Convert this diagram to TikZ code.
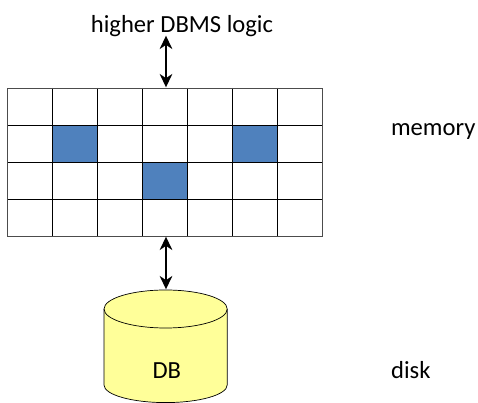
\documentclass[tikz,border=0pt]{standalone}
\usepackage{fontspec}
\setmainfont{Carlito}
\usepackage{xcolor}
\usetikzlibrary{arrows.meta}
\definecolor{cellblue}{HTML}{4F81BD}
\definecolor{dbyellow}{HTML}{FFFF99}
\tikzset{
    lbl/.style={font=\fontsize{17.5}{20}\selectfont, inner sep=0pt},
    link/.style={line width=1.3pt, {Stealth[length=9.5pt,width=9pt,inset=3pt]}-{Stealth[length=9.5pt,width=9pt,inset=3pt]}, shorten >=0.5pt, shorten <=0.5pt},
}
\begin{document}
\begin{tikzpicture}
    \useasboundingbox (0,0) rectangle (11.95,10.075);
    %%Memory cells
    \fill[cellblue] (1.315,6.95) rectangle (2.44,6.025);
    \fill[cellblue] (5.815,6.95) rectangle (6.94,6.025);
    \fill[cellblue] (3.565,6.025) rectangle (4.69,5.1);
    \foreach \c in {1,...,6} {
        \draw[line width=0.5pt] ({0.19+1.125*\c},7.875) to ({0.19+1.125*\c},4.175);
    }
    \foreach \r in {1,2,3} {
        \draw[line width=0.5pt] (0.19,{7.875-0.925*\r}) to (8.05,{7.875-0.925*\r});
    }
    \node[draw=black!70, line width=0.5pt, minimum width=7.86cm, minimum height=3.7cm, inner sep=0pt, outer sep=0pt] (grid) at (4.12,6.025) {};
    %%Disk
    \draw[fill=dbyellow, line width=0.5pt] (2.6,2.35) to (2.6,0.45) arc (180:360:1.54 and 0.44) to (5.68,2.35) arc (0:180:1.54 and 0.475);
    \draw[line width=0.5pt] (2.6,2.35) arc (180:360:1.54 and 0.475);
    \coordinate (dbtop) at (4.14,2.825);
    \node[lbl] (dblabel) at (4.17,0.8) {DB};
    %%Labels
    \node[lbl] (logic) at (4.55,9.42) {higher DBMS logic};
    \node[lbl, anchor=west] (memory) at (9.77,6.78) {memory};
    \node[lbl, anchor=west] (disk) at (9.77,0.83) {disk};
    %%Arrows
    \coordinate (logicend) at (4.15,9.2);
    \draw[link] (logicend) to (logicend |- grid.north);
    \draw[link] (logicend |- grid.south) to (logicend |- dbtop);
\end{tikzpicture}
\end{document}
